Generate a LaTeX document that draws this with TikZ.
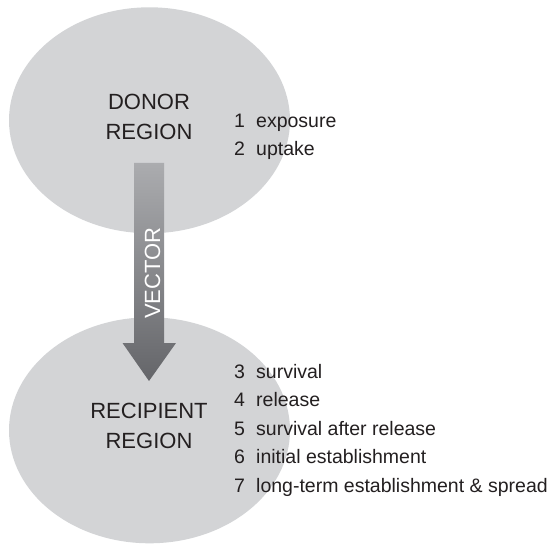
\documentclass[tikz,border=0pt]{standalone}
\usepackage{fontspec}
\setmainfont{Liberation Sans}
\usetikzlibrary{shapes.geometric}
\definecolor{regiongray}{HTML}{D3D4D6}
\definecolor{inkc}{HTML}{231F20}
\definecolor{arrowtop}{HTML}{ABACAF}
\definecolor{arrowbot}{HTML}{646569}
\begin{document}
\begin{tikzpicture}[x=1pt,y=-1pt,
  region/.style={ellipse, fill=regiongray, minimum width=281pt, minimum height=226pt, inner sep=0pt},
  bigtext/.style={font=\fontsize{22}{26}\selectfont, text=inkc, inner sep=0pt, anchor=base},
  itemnum/.style={font=\fontsize{19.5}{24}\selectfont, text=inkc, inner sep=0pt, anchor=base west},
  itemtext/.style={font=\fontsize{19.5}{24}\selectfont, text=inkc, inner sep=0pt, anchor=base west}]
\useasboundingbox (0,0) rectangle (551,545);
% regions
\node[region] (donor) at (149.5,120.3) {};
\node[region] (recip) at (149.5,430.3) {};
% block arrow (vector)
\coordinate (atop) at (149,163);
\coordinate (atip) at (149,381);
\shade[top color=arrowtop, bottom color=arrowbot]
  ([xshift=-15]atop) -- ([xshift=15]atop) -- (164,343) -- (176,343)
  -- (atip) -- (122.5,343) -- (134,343) -- cycle;
\node[bigtext, text=white, rotate=90] (vector) at (160,273.3) {VECTOR};
% region labels
\node[bigtext] (d1) at (149,109.3) {DONOR};
\node[bigtext] (d2) at (149,139.3) {REGION};
\node[bigtext] (r1) at (149,418.3) {RECIPIENT};
\node[bigtext] (r2) at (149,448.3) {REGION};
% steps
\node[itemnum] (n1) at (234,127.3) {1};
\node[itemtext] (t1) at (256,127.3) {exposure};
\node[itemnum] (n2) at (234,156) {2};
\node[itemtext] (t2) at (256,156) {uptake};
\node[itemnum] (n3) at (234,378.3) {3};
\node[itemtext] (t3) at (256,378.3) {survival};
\node[itemnum] (n4) at (234,406.8) {4};
\node[itemtext] (t4) at (256,406.8) {release};
\node[itemnum] (n5) at (234,435.3) {5};
\node[itemtext] (t5) at (256,435.3) {survival after release};
\node[itemnum] (n6) at (234,463.8) {6};
\node[itemtext] (t6) at (256,463.8) {initial establishment};
\node[itemnum] (n7) at (234,492.3) {7};
\node[itemtext] (t7) at (256,492.3) {long-term establishment \& spread};
\end{tikzpicture}
\end{document}
